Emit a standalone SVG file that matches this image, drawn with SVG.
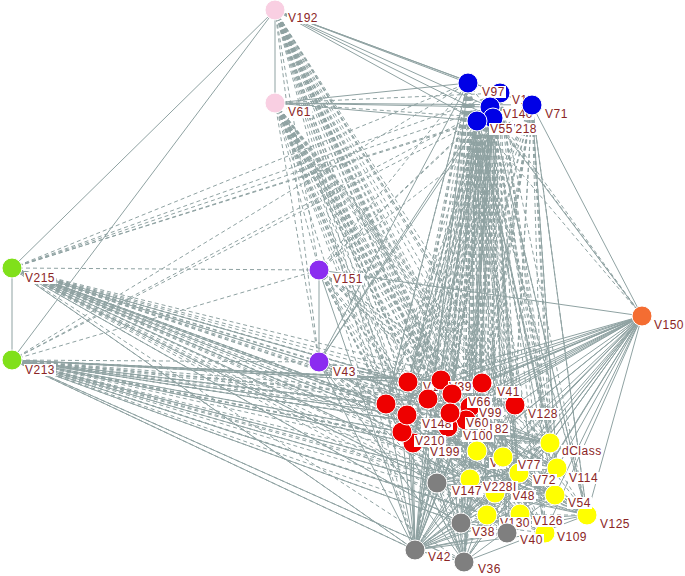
<svg xmlns="http://www.w3.org/2000/svg" width="685" height="576" viewBox="0 0 685 576">
<style>
.e{fill:none;stroke:#8fa2a2;stroke-width:1}
.d{stroke-dasharray:4 3}
.n{stroke:#ffffff;stroke-width:1}
.pk{fill:#f9cfe2}.bl{fill:#0000e6}.gr{fill:#80e01a}.pu{fill:#8b2cf0}.or{fill:#f46d32}.rd{fill:#ee0000}.ye{fill:#ffff00}.gy{fill:#7f7f7f}
.lb{fill:#ffffff}
.t{font-family:"Liberation Sans",Arial,sans-serif;font-size:12px;fill:#8b2525;letter-spacing:0.5px}
</style>
<rect width="685" height="576" fill="#ffffff"/>
<g id="connectors">
<path class="e d" d="M275 10L408 382M275 10L441 380M275 10L482 383M275 10L452 394M275 10L428 399M275 10L386 404M275 10L407 415M275 10L450 413M275 10L515 405M275 10L402 432M275 10L470 407M275 10L448 427M275 10L413 443M275 10L466 420M275 10L550 443M275 10L477 451M275 10L503 457M275 10L557 468M275 10L519 473M275 10L470 479M275 10L495 493M275 10L555 495M275 10L487 515M275 10L520 514M275 10L587 515M275 10L545 533M275 10L437 483M275 10L461 523M275 10L507 533M275 10L415 550M275 10L464 562"/>
<path class="e d" d="M275 103L408 382M275 103L441 380M275 103L482 383M275 103L452 394M275 103L428 399M275 103L386 404M275 103L407 415M275 103L450 413M275 103L515 405M275 103L402 432M275 103L470 407M275 103L448 427M275 103L413 443M275 103L466 420M275 103L550 443M275 103L477 451M275 103L503 457M275 103L557 468M275 103L519 473M275 103L470 479M275 103L495 493M275 103L555 495M275 103L487 515M275 103L520 514M275 103L587 515M275 103L545 533M275 103L437 483M275 103L461 523M275 103L507 533M275 103L415 550M275 103L464 562"/>
<path class="e d" d="M468 83L408 382M468 83L441 380M468 83L482 383M468 83L452 394M468 83L428 399M468 83L386 404M468 83L407 415M468 83L450 413M468 83L515 405M468 83L402 432M468 83L470 407M468 83L448 427M468 83L413 443M468 83L466 420M468 83L550 443M468 83L477 451M468 83L503 457M468 83L557 468M468 83L519 473M468 83L470 479M468 83L495 493M468 83L555 495M468 83L487 515M468 83L520 514M468 83L587 515M468 83L545 533M468 83L437 483M468 83L461 523M468 83L507 533M468 83L415 550M468 83L464 562"/>
<path class="e d" d="M490 107L408 382M490 107L441 380M490 107L482 383M490 107L452 394M490 107L428 399M490 107L386 404M490 107L407 415M490 107L450 413M490 107L515 405M490 107L402 432M490 107L470 407M490 107L448 427M490 107L413 443M490 107L466 420M490 107L550 443M490 107L477 451M490 107L503 457M490 107L557 468M490 107L519 473M490 107L470 479M490 107L495 493M490 107L555 495M490 107L487 515M490 107L520 514M490 107L587 515M490 107L545 533M490 107L437 483M490 107L461 523M490 107L507 533M490 107L415 550M490 107L464 562"/>
<path class="e d" d="M477 121L408 382M477 121L441 380M477 121L482 383M477 121L452 394M477 121L428 399M477 121L386 404M477 121L407 415M477 121L450 413M477 121L515 405M477 121L402 432M477 121L470 407M477 121L448 427M477 121L413 443M477 121L466 420M477 121L550 443M477 121L477 451M477 121L503 457M477 121L557 468M477 121L519 473M477 121L470 479M477 121L495 493M477 121L555 495M477 121L487 515M477 121L520 514M477 121L587 515M477 121L545 533M477 121L437 483M477 121L461 523M477 121L507 533M477 121L415 550M477 121L464 562"/>
<path class="e d" d="M500 93L408 382M500 93L482 383M500 93L386 404M500 93L515 405M500 93L402 432M500 93L550 443M500 93L557 468M500 93L555 495M500 93L587 515M500 93L545 533M500 93L437 483M500 93L507 533M500 93L415 550M500 93L464 562M500 93L470 479M500 93L487 515"/>
<path class="e d" d="M493 118L441 380M493 118L452 394M493 118L428 399M493 118L407 415M493 118L450 413M493 118L413 443M493 118L477 451M493 118L503 457M493 118L519 473M493 118L495 493M493 118L520 514M493 118L461 523M493 118L470 407M493 118L448 427M493 118L466 420"/>
<path class="e d" d="M532 105L408 382M532 105L441 380M532 105L482 383M532 105L386 404M532 105L515 405M532 105L402 432M532 105L550 443M532 105L557 468M532 105L555 495M532 105L587 515M532 105L545 533M532 105L437 483M532 105L507 533M532 105L415 550M532 105L464 562M532 105L470 479M532 105L477 451"/>
<path class="e d" d="M12 268L408 382M12 268L441 380M12 268L482 383M12 268L452 394M12 268L428 399M12 268L386 404M12 268L407 415M12 268L450 413M12 268L515 405M12 268L402 432M12 268L470 407M12 268L448 427M12 268L413 443M12 268L466 420M12 268L550 443M12 268L477 451M12 268L503 457M12 268L557 468M12 268L519 473M12 268L470 479M12 268L495 493M12 268L555 495M12 268L487 515M12 268L520 514M12 268L587 515M12 268L545 533M12 268L437 483M12 268L461 523M12 268L507 533M12 268L415 550M12 268L464 562"/>
<path class="e d" d="M12 360L408 382M12 360L441 380M12 360L482 383M12 360L452 394M12 360L428 399M12 360L386 404M12 360L407 415M12 360L450 413M12 360L515 405M12 360L402 432M12 360L470 407M12 360L448 427M12 360L413 443M12 360L466 420M12 360L550 443M12 360L477 451M12 360L503 457M12 360L557 468M12 360L519 473M12 360L470 479M12 360L495 493M12 360L555 495M12 360L487 515M12 360L520 514M12 360L587 515M12 360L545 533M12 360L437 483M12 360L461 523M12 360L507 533M12 360L415 550M12 360L464 562"/>
<path class="e d" d="M12 268L468 83M12 268L500 93M12 268L490 107M12 268L477 121M12 268L532 105M12 360L468 83M12 360L490 107M12 360L477 121M12 268L319 270M12 268L319 362M12 360L319 270M12 360L319 362M319 270L468 83M319 270L490 107M319 270L477 121M319 270L532 105M319 270L275 10M319 270L275 103M319 362L275 10M319 362L275 103M642 316L468 83M642 316L490 107M642 316L477 121M275 103L500 93M275 103L493 118"/>
<path class="e d" d="M319 270L408 382M319 270L441 380M319 270L482 383M319 270L386 404M319 270L407 415M319 270L515 405M319 270L402 432M319 270L550 443M319 270L557 468M319 270L555 495M319 270L587 515M319 270L437 483M319 270L507 533M319 270L464 562M319 270L470 479M319 362L441 380M319 362L452 394M319 362L428 399M319 362L407 415M319 362L515 405M319 362L402 432M319 362L413 443M319 362L477 451M319 362L557 468M319 362L555 495M319 362L587 515M319 362L545 533M319 362L437 483M319 362L461 523M319 362L470 479"/>
<path class="e d" d="M408 382L515 405M386 404L482 383M386 404L557 468M408 382L545 533M441 380L555 495M482 383L470 479M482 383L437 483M452 394L545 533M428 399L555 495M407 415L557 468M407 415L555 495M407 415L545 533M402 432L557 468M402 432L555 495M413 443L587 515M413 443L550 443M515 405L437 483M515 405L470 479M515 405L507 533M448 427L555 495M448 427L464 562M466 420L545 533M470 407L437 483M550 443L470 479M550 443L487 515M557 468L470 479M557 468L487 515M477 451L587 515M477 451L545 533M503 457L437 483M503 457L461 523M519 473L437 483M519 473L461 523M470 479L555 495M495 493L587 515M487 515L587 515M520 514L437 483M545 533L461 523M437 483L507 533M461 523L555 495M450 413L545 533M452 394L464 562M441 380L507 533M428 399L507 533M408 382L461 523M386 404L461 523M402 432L507 533M413 443L507 533M407 415L464 562M482 383L545 533M515 405L487 515M515 405L495 493M482 383L550 443M408 382L482 383"/>
<path class="e" d="M275 10L275 103M12 268L12 360M319 270L319 362M275 10L12 268M275 10L12 360M275 10L468 83M275 10L500 93M275 10L490 107M275 10L493 118M275 10L477 121M275 10L532 105M275 103L468 83M275 103L490 107M275 103L477 121M275 103L532 105M532 105L642 316M493 118L642 316M477 121L408 382M477 121L415 550M468 83L415 550M490 107L587 515M532 105L587 515M532 105L557 468M468 83L386 404M490 107L464 562"/>
<path class="e" d="M319 362L477 121M319 362L468 83M319 362L490 107M319 270L415 550M319 362L408 382M319 362L386 404M319 362L415 550M319 362L550 443M319 362L464 562M12 268L408 382M12 268L386 404M12 268L407 415M12 268L402 432M12 268L437 483M12 268L415 550M12 268L470 479M12 268L461 523M12 268L428 399M12 268L477 451M12 360L408 382M12 360L386 404M12 360L407 415M12 360L402 432M12 360L413 443M12 360L437 483M12 360L415 550M12 360L461 523M12 360L464 562M12 360L470 479M12 360L487 515M12 360L441 380M12 360L482 383M12 360L550 443"/>
<path class="e" d="M642 316L408 382M642 316L441 380M642 316L482 383M642 316L452 394M642 316L428 399M642 316L386 404M642 316L407 415M642 316L450 413M642 316L515 405M642 316L402 432M642 316L470 407M642 316L448 427M642 316L413 443M642 316L550 443M642 316L477 451M642 316L503 457M642 316L557 468M642 316L519 473M642 316L470 479M642 316L495 493M642 316L555 495M642 316L487 515M642 316L520 514M642 316L587 515M642 316L545 533M642 316L437 483M642 316L461 523M642 316L507 533M642 316L415 550M642 316L464 562M642 316L319 270"/>
<path class="e" d="M408 382L550 443M408 382L557 468M408 382L555 495M408 382L587 515M408 382L507 533M408 382L520 514M386 404L550 443M386 404L587 515M386 404L555 495M386 404L464 562M386 404L545 533M386 404L507 533M441 380L587 515M441 380L415 550M441 380L545 533M441 380L464 562M482 383L415 550M482 383L461 523M482 383L464 562M482 383L487 515M452 394L587 515M452 394L415 550M428 399L587 515M428 399L557 468M428 399L464 562M407 415L550 443M407 415L587 515M407 415L507 533M515 405L415 550M515 405L461 523M515 405L386 404M515 405L402 432M402 432L587 515M402 432L550 443M402 432L545 533M413 443L555 495M413 443L557 468M550 443L415 550M550 443L461 523M550 443L464 562M550 443L437 483M557 468L415 550M557 468L437 483M557 468L461 523M555 495L415 550M555 495L437 483M555 495L464 562M587 515L415 550M587 515L437 483M587 515L461 523M587 515L464 562M587 515L470 479M545 533L415 550M545 533L437 483M520 514L415 550M503 457L415 550M519 473L415 550M477 451L415 550M487 515L415 550M495 493L415 550M437 483L464 562M503 457L464 562M519 473L464 562M477 451L464 562M448 427L587 515M466 420L415 550M470 407L415 550M450 413L587 515M450 413L415 550M415 550L464 562M415 550L461 523M415 550L507 533M415 550L470 479M415 550L437 483M408 382L415 550M386 404L415 550M402 432L415 550M413 443L415 550M407 415L415 550M428 399L415 550"/>
</g>
<g id="n-V192"><circle class="n pk" cx="275" cy="10" r="10"/><rect class="lb" x="287" y="12" width="32" height="12"/><text class="t" x="288" y="22">V192</text></g>
<g id="n-V61"><circle class="n pk" cx="275" cy="103" r="10"/><rect class="lb" x="287" y="106" width="25" height="12"/><text class="t" x="288" y="116">V61</text></g>
<g id="n-V215"><circle class="n gr" cx="12" cy="268" r="10"/><rect class="lb" x="24" y="272" width="32" height="12"/><text class="t" x="25" y="282">V215</text></g>
<g id="n-V213"><circle class="n gr" cx="12" cy="360" r="10"/><rect class="lb" x="24" y="364" width="32" height="12"/><text class="t" x="25" y="374">V213</text></g>
<g id="n-V151"><circle class="n pu" cx="319" cy="270" r="10"/><rect class="lb" x="332" y="273" width="32" height="12"/><text class="t" x="333" y="283">V151</text></g>
<g id="n-V43"><circle class="n pu" cx="319" cy="362" r="10"/><rect class="lb" x="332" y="366" width="25" height="12"/><text class="t" x="333" y="376">V43</text></g>
<g id="n-V150"><circle class="n or" cx="642" cy="316" r="10"/><rect class="lb" x="653" y="319" width="32" height="12"/><text class="t" x="654" y="329">V150</text></g>
<g id="n-V1b"><circle class="n bl" cx="500" cy="93" r="10"/><rect class="lb" x="511" y="94" width="17" height="12"/><text class="t" x="512" y="104">V1</text></g>
<g id="n-V97"><circle class="n bl" cx="468" cy="83" r="10"/><rect class="lb" x="481" y="86" width="25" height="12"/><text class="t" x="482" y="96">V97</text></g>
<g id="n-V140"><circle class="n bl" cx="490" cy="107" r="10"/><rect class="lb" x="502" y="108" width="32" height="12"/><text class="t" x="503" y="118">V140</text></g>
<g id="n-V218"><circle class="n bl" cx="493" cy="118" r="10"/><rect class="lb" x="506" y="123" width="32" height="12"/><text class="t" x="507" y="133">V218</text></g>
<g id="n-V55"><circle class="n bl" cx="477" cy="121" r="10"/><rect class="lb" x="489" y="123" width="25" height="12"/><text class="t" x="490" y="133">V55</text></g>
<g id="n-V71"><circle class="n bl" cx="532" cy="105" r="10"/><rect class="lb" x="544" y="108" width="25" height="12"/><text class="t" x="545" y="118">V71</text></g>
<g id="n-V128"><circle class="n rd" cx="515" cy="405" r="10"/><rect class="lb" x="527" y="408" width="32" height="12"/><text class="t" x="528" y="418">V128</text></g>
<g id="n-V1r"><circle class="n rd" cx="408" cy="382" r="10"/><rect class="lb" x="422" y="381" width="17" height="12"/><text class="t" x="423" y="391">V1</text></g>
<g id="n-V39"><circle class="n rd" cx="441" cy="380" r="10"/><rect class="lb" x="448" y="381" width="25" height="12"/><text class="t" x="449" y="391">V39</text></g>
<g id="n-V41"><circle class="n rd" cx="482" cy="383" r="10"/><rect class="lb" x="496" y="386" width="25" height="12"/><text class="t" x="497" y="396">V41</text></g>
<g id="n-r6"><circle class="n rd" cx="386" cy="404" r="10"/></g>
<g id="n-r5"><circle class="n rd" cx="428" cy="399" r="10"/></g>
<g id="n-V99"><circle class="n rd" cx="470" cy="407" r="10"/><rect class="lb" x="478" y="407" width="25" height="12"/><text class="t" x="479" y="417">V99</text></g>
<g id="n-V182"><circle class="n rd" cx="466" cy="420" r="10"/><rect class="lb" x="478" y="423" width="32" height="12"/><text class="t" x="479" y="433">V182</text></g>
<g id="n-V100"><circle class="n rd" cx="448" cy="427" r="10"/><rect class="lb" x="462" y="430" width="32" height="12"/><text class="t" x="463" y="440">V100</text></g>
<g id="n-V199"><circle class="n rd" cx="413" cy="443" r="10"/><rect class="lb" x="429" y="446" width="32" height="12"/><text class="t" x="430" y="456">V199</text></g>
<g id="n-V210"><circle class="n rd" cx="402" cy="432" r="10"/><rect class="lb" x="414" y="435" width="32" height="12"/><text class="t" x="415" y="445">V210</text></g>
<g id="n-V148"><circle class="n rd" cx="407" cy="415" r="10"/><rect class="lb" x="421" y="418" width="32" height="12"/><text class="t" x="422" y="428">V148</text></g>
<g id="n-V66"><circle class="n rd" cx="452" cy="394" r="10"/><rect class="lb" x="467" y="396" width="25" height="12"/><text class="t" x="468" y="406">V66</text></g>
<g id="n-V60"><circle class="n rd" cx="450" cy="413" r="10"/><rect class="lb" x="465" y="417" width="25" height="12"/><text class="t" x="466" y="427">V60</text></g>
<g id="n-V109"><circle class="n ye" cx="545" cy="533" r="10"/><rect class="lb" x="556" y="531" width="32" height="12"/><text class="t" x="557" y="541">V109</text></g>
<g id="n-V126"><circle class="n ye" cx="520" cy="514" r="10"/><rect class="lb" x="532" y="515" width="32" height="12"/><text class="t" x="533" y="525">V126</text></g>
<g id="n-V125"><circle class="n ye" cx="587" cy="515" r="10"/><rect class="lb" x="599" y="518" width="32" height="12"/><text class="t" x="600" y="528">V125</text></g>
<g id="n-dClass"><circle class="n ye" cx="550" cy="443" r="10"/><rect class="lb" x="561" y="445" width="41" height="12"/><text class="t" x="562" y="455">dClass</text></g>
<g id="n-V114"><circle class="n ye" cx="557" cy="468" r="10"/><rect class="lb" x="568" y="472" width="32" height="12"/><text class="t" x="569" y="482">V114</text></g>
<g id="n-V54"><circle class="n ye" cx="555" cy="495" r="10"/><rect class="lb" x="567" y="497" width="25" height="12"/><text class="t" x="568" y="507">V54</text></g>
<g id="n-V1y"><circle class="n ye" cx="477" cy="451" r="10"/><rect class="lb" x="489" y="457" width="17" height="12"/><text class="t" x="490" y="467">V1</text></g>
<g id="n-V72"><circle class="n ye" cx="519" cy="473" r="10"/><rect class="lb" x="532" y="474" width="25" height="12"/><text class="t" x="533" y="484">V72</text></g>
<g id="n-V77"><circle class="n ye" cx="503" cy="457" r="10"/><rect class="lb" x="517" y="459" width="25" height="12"/><text class="t" x="518" y="469">V77</text></g>
<g id="n-V48"><circle class="n ye" cx="495" cy="493" r="10"/><rect class="lb" x="511" y="490" width="25" height="12"/><text class="t" x="512" y="500">V48</text></g>
<g id="n-V228"><circle class="n ye" cx="470" cy="479" r="10"/><rect class="lb" x="482" y="481" width="36" height="12"/><text class="t" x="483" y="491">V228I</text></g>
<g id="n-V147"><circle class="n gy" cx="437" cy="483" r="10"/><rect class="lb" x="451" y="485" width="32" height="12"/><text class="t" x="452" y="495">V147</text></g>
<g id="n-V130"><circle class="n ye" cx="487" cy="515" r="10"/><rect class="lb" x="499" y="517" width="32" height="12"/><text class="t" x="500" y="527">V130</text></g>
<g id="n-V38"><circle class="n gy" cx="461" cy="523" r="10"/><rect class="lb" x="471" y="526" width="25" height="12"/><text class="t" x="472" y="536">V38</text></g>
<g id="n-V40"><circle class="n gy" cx="507" cy="533" r="10"/><rect class="lb" x="519" y="534" width="25" height="12"/><text class="t" x="520" y="544">V40</text></g>
<g id="n-V42"><circle class="n gy" cx="415" cy="550" r="10"/><rect class="lb" x="427" y="551" width="25" height="12"/><text class="t" x="428" y="561">V42</text></g>
<g id="n-V36"><circle class="n gy" cx="464" cy="562" r="10"/><rect class="lb" x="477" y="563" width="25" height="12"/><text class="t" x="478" y="573">V36</text></g>
</svg>
